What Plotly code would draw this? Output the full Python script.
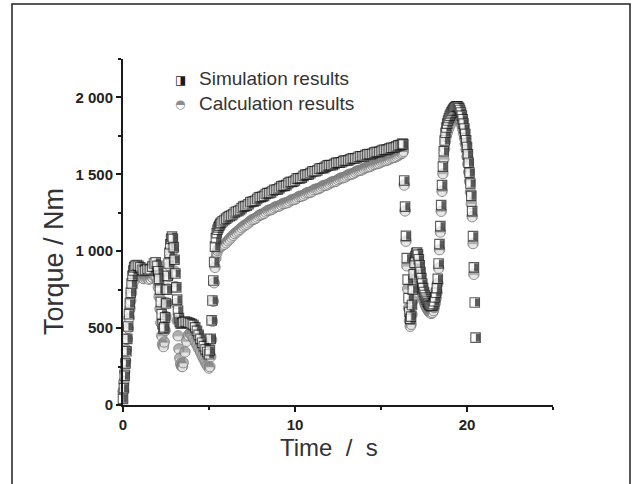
import plotly.graph_objects as go

# ---------------- data ----------------
time_s = [
    0.00, 0.05, 0.10, 0.15, 0.20, 0.25, 0.30, 0.35, 0.40, 0.45, 0.50, 0.55, 0.60, 0.65, 0.70,
    0.80, 0.90, 1.00, 1.10, 1.20, 1.30, 1.40, 1.50, 1.60, 1.70, 1.80, 1.90,
    2.00, 2.05, 2.10, 2.15, 2.20, 2.25, 2.30, 2.35, 2.40, 2.45, 2.50, 2.55, 2.60, 2.65, 2.70,
    2.75, 2.80, 2.85, 2.90, 2.95, 3.00, 3.05, 3.10, 3.15, 3.20, 3.25, 3.30, 3.35, 3.40, 3.45,
    3.50, 3.60, 3.70, 3.80, 3.90, 4.00, 4.10, 4.20, 4.30, 4.40, 4.50, 4.60, 4.70, 4.80, 4.90,
    5.00, 5.05, 5.10, 5.15, 5.20, 5.25, 5.30, 5.35, 5.40, 5.45, 5.50, 5.55, 5.60, 5.65, 5.70,
    5.8, 5.9, 6.0, 6.1, 6.2, 6.3, 6.4, 6.5, 6.6, 6.7,
    6.8, 6.9, 7.0, 7.1, 7.2, 7.3, 7.4, 7.5, 7.6, 7.7,
    7.8, 7.9, 8.0, 8.1, 8.2, 8.3, 8.4, 8.5, 8.6, 8.7,
    8.8, 8.9, 9.0, 9.1, 9.2, 9.3, 9.4, 9.5, 9.6, 9.7,
    9.8, 9.9, 10.0, 10.1, 10.2, 10.3, 10.4, 10.5, 10.6, 10.7,
    10.8, 10.9, 11.0, 11.1, 11.2, 11.3, 11.4, 11.5, 11.6, 11.7,
    11.8, 11.9, 12.0, 12.1, 12.2, 12.3, 12.4, 12.5, 12.6, 12.7,
    12.8, 12.9, 13.0, 13.1, 13.2, 13.3, 13.4, 13.5, 13.6, 13.7,
    13.8, 13.9, 14.0, 14.1, 14.2, 14.3, 14.4, 14.5, 14.6, 14.7,
    14.8, 14.9, 15.0, 15.1, 15.2, 15.3, 15.4, 15.5, 15.6, 15.7,
    15.8, 15.9, 16.0, 16.1, 16.2,
    16.25, 16.30, 16.35, 16.40, 16.45, 16.50, 16.55, 16.60, 16.65, 16.70,
    16.75, 16.80, 16.85, 16.90, 16.95, 17.00, 17.05, 17.10, 17.15, 17.20,
    17.25, 17.30, 17.35, 17.40, 17.45, 17.50, 17.55, 17.60, 17.65, 17.70,
    17.75, 17.80, 17.85, 17.90, 17.95, 18.00, 18.05, 18.10, 18.15, 18.20,
    18.25, 18.30, 18.35, 18.40, 18.45, 18.50, 18.55, 18.60, 18.65, 18.70,
    18.75, 18.80, 18.85, 18.90, 18.95, 19.00, 19.05, 19.10, 19.15, 19.20,
    19.25, 19.30, 19.35, 19.40, 19.45, 19.50, 19.55, 19.60, 19.65, 19.70,
    19.75, 19.80, 19.85, 19.90, 19.95, 20.00, 20.05, 20.10, 20.15, 20.20,
    20.25, 20.30, 20.35, 20.40, 20.45, 20.50,
]

torque_sim = [
    40, 110, 190, 270, 350, 430, 510, 590, 660, 730, 790, 840, 875, 895, 905,
    910, 905, 895, 880, 872, 878, 885, 875, 882, 900, 920, 928,
    905, 870, 820, 750, 670, 590, 525, 495, 505, 570, 660, 750, 840, 920, 990,
    1045, 1080, 1095, 1080, 1025, 945, 855, 765, 685, 615, 565, 540, 530, 530, 535,
    538, 542, 540, 536, 532, 526, 520, 505, 482, 456, 430, 405, 383, 362, 345,
    330, 355, 430, 550, 680, 810, 930, 1030, 1085, 1118, 1140, 1155, 1166, 1176, 1185,
    1195, 1203, 1212, 1222, 1228, 1232, 1240, 1252, 1258, 1262,
    1268, 1280, 1290, 1293, 1296, 1305, 1318, 1322, 1324, 1328,
    1340, 1350, 1352, 1354, 1360, 1372, 1378, 1378, 1382, 1392,
    1400, 1400, 1402, 1410, 1422, 1425, 1425, 1430, 1442, 1450,
    1450, 1452, 1460, 1472, 1475, 1474, 1478, 1490, 1498, 1498,
    1500, 1508, 1518, 1520, 1520, 1525, 1536, 1540, 1540, 1542,
    1550, 1558, 1560, 1559, 1561, 1568, 1575, 1576, 1575, 1579,
    1586, 1590, 1589, 1590, 1597, 1603, 1604, 1603, 1606, 1614,
    1618, 1617, 1618, 1625, 1631, 1632, 1631, 1634, 1641, 1645,
    1645, 1646, 1652, 1658, 1660, 1659, 1662, 1669, 1673, 1673,
    1675, 1682, 1688, 1690, 1692,
    1700, 1695, 1460, 1290, 1100, 955, 815, 695, 605, 560,
    575, 650, 750, 850, 925, 968, 988, 992, 978, 948,
    908, 865, 825, 790, 760, 735, 715, 698, 684, 672,
    662, 654, 648, 644, 643, 646, 656, 675, 700, 730,
    760, 820, 920, 1046, 1163, 1300, 1430, 1550, 1650, 1720,
    1770, 1805, 1830, 1850, 1866, 1880, 1892, 1903, 1913, 1922,
    1930, 1936, 1940, 1942, 1942, 1938, 1930, 1918, 1902, 1882,
    1858, 1830, 1798, 1762, 1722, 1678, 1630, 1575, 1510, 1440,
    1360, 1261, 1098, 895, 667, 438,
]

torque_calc = [
    90, 150, 220, 290, 360, 430, 500, 565, 625, 680, 730, 770, 800, 825, 840,
    848, 845, 838, 828, 822, 825, 828, 818, 822, 832, 842, 835,
    805, 765, 705, 625, 535, 450, 395, 380, 410, 485, 575, 665, 755, 835, 905,
    960, 1000, 1020, 1005, 950, 870, 770, 660, 550, 450, 365, 305, 268, 252, 250,
    275, 345, 415, 455, 465, 455, 435, 412, 390, 368, 345, 320, 298, 276, 258,
    240, 250, 315, 425, 545, 675, 795, 895, 955, 988, 1005, 1015, 1022, 1028, 1034,
    1040, 1046, 1055, 1068, 1080, 1092, 1104, 1115, 1124, 1132,
    1142, 1153, 1163, 1170, 1176, 1185, 1196, 1204, 1208, 1213,
    1222, 1232, 1238, 1241, 1246, 1255, 1264, 1268, 1270, 1275,
    1284, 1290, 1292, 1295, 1302, 1310, 1313, 1314, 1318, 1327,
    1334, 1336, 1338, 1345, 1354, 1358, 1359, 1363, 1372, 1380,
    1382, 1384, 1390, 1399, 1404, 1405, 1408, 1415, 1424, 1428,
    1429, 1433, 1440, 1448, 1452, 1453, 1457, 1465, 1473, 1477,
    1478, 1482, 1490, 1497, 1501, 1502, 1506, 1514, 1521, 1525,
    1526, 1530, 1537, 1544, 1548, 1549, 1553, 1560, 1566, 1569,
    1570, 1574, 1580, 1586, 1589, 1590, 1594, 1600, 1606, 1609,
    1611, 1616, 1623, 1630, 1636,
    1640, 1650, 1430, 1262, 1065, 905, 755, 630, 548, 512,
    525, 590, 680, 770, 840, 882, 902, 900, 882, 853,
    820, 785, 752, 722, 697, 676, 660, 646, 634, 624,
    615, 607, 601, 597, 597, 602, 614, 634, 660, 692,
    730, 790, 890, 1010, 1125, 1260, 1390, 1505, 1600, 1668,
    1715, 1748, 1772, 1790, 1805, 1818, 1830, 1840, 1850, 1858,
    1865, 1870, 1874, 1876, 1876, 1872, 1865, 1855, 1840, 1820,
    1796, 1768, 1736, 1700, 1660, 1616, 1568, 1515, 1455, 1385,
    1310, 1225, 1050, 850,
]

assert len(time_s) == len(torque_sim), (len(time_s), len(torque_sim))
time_c = time_s[:len(torque_calc)]

series_names = ["Simulation results", "Calculation results"]
x_tickvals = [0, 10, 20]
x_ticktext = ["0", "10", "20"]
y_tickvals = [0, 500, 1000, 1500, 2000]
y_ticktext = ["0", "500", "1 000", "1 500", "2 000"]
x_title = "Time\u00a0\u00a0/\u00a0\u00a0s"
y_title = "Torque / Nm"

# ---------------- layout constants ----------------
W, H = 632, 484
ML, MR, MT, MB = 123, 79, 59, 79
X_RANGE = [0, 25]
Y_RANGE = [0, 2250]
PW, PH = W - ML - MR, H - MT - MB

INK = "#1a1a1a"
GREY_FILL = "#8c8c8c"
GREY_LINE = "#777777"
SQ = 9.5     # square marker size (px)
CI = 10.5    # circle marker size (px)

# Each data point is drawn as a small stack of marker layers (same x, y),
# so that later points cover earlier ones exactly like the original plot.
square_layers = [
    dict(symbol="square", size=SQ, color="white", lcolor=INK, lwidth=1.1, angle=0, standoff=0),
    # black right half: a thick short stroke, rotated upright and pushed right
    dict(symbol="line-ew", size=(SQ - 1.6) / 1.4, color=INK, lcolor=INK,
         lwidth=SQ / 2 - 0.5, angle=270, standoff=SQ / 4),
]
circle_layers = [
    dict(symbol="circle", size=CI, color=GREY_FILL, lcolor=GREY_FILL, lwidth=0, angle=0, standoff=0),
    # white lower half: a thick short stroke pushed downwards
    dict(symbol="line-ew", size=(CI - 3.2) / 1.4, color="white", lcolor="white",
         lwidth=CI / 2 - 1.0, angle=0, standoff=CI / 4 + 0.1),
    dict(symbol="circle-open", size=CI, color=GREY_LINE, lcolor=GREY_LINE, lwidth=1, angle=0, standoff=0),
]


def layered_trace(t, v, layers, name):
    xs, ys = [], []
    keys = ["symbol", "size", "color", "lcolor", "lwidth", "angle", "standoff"]
    cols = {k: [] for k in keys}
    for ti, vi in zip(t, v):
        for lay in layers:
            xs.append(ti)
            ys.append(vi)
            for k in keys:
                cols[k].append(lay[k])
    return go.Scatter(
        x=xs, y=ys, mode="markers", name=name, showlegend=False,
        cliponaxis=False, hoverinfo="x+y+name",
        marker=dict(symbol=cols["symbol"], size=cols["size"], color=cols["color"],
                    angle=cols["angle"], standoff=cols["standoff"],
                    line=dict(color=cols["lcolor"], width=cols["lwidth"])),
    )


fig = go.Figure()
fig.add_trace(layered_trace(time_c, torque_calc, circle_layers, series_names[1]))
fig.add_trace(layered_trace(time_s, torque_sim, square_layers, series_names[0]))

FONT = "Liberation Sans, Arial, sans-serif"
tick_font = dict(family=FONT, size=15, color="#222222", weight="bold")

fig.update_layout(
    width=W, height=H,
    margin=dict(l=ML, r=MR, t=MT, b=MB, pad=0),
    paper_bgcolor="white", plot_bgcolor="white",
    showlegend=False,
    xaxis=dict(
        range=X_RANGE, showgrid=False, zeroline=False,
        showline=True, linecolor=INK, linewidth=2,
        ticks="outside", ticklen=5, tickwidth=2, tickcolor=INK,
        tickvals=x_tickvals, ticktext=x_ticktext, tickfont=tick_font,
        minor=dict(dtick=5, tick0=0, ticks="outside", ticklen=3,
                   tickwidth=2, tickcolor=INK, showgrid=False),
    ),
    yaxis=dict(
        range=Y_RANGE, showgrid=False, zeroline=False,
        showline=True, linecolor=INK, linewidth=2,
        ticks="outside", ticklen=5, tickwidth=2, tickcolor=INK,
        tickvals=y_tickvals, ticktext=y_ticktext, tickfont=tick_font,
        minor=dict(dtick=250, tick0=0, ticks="outside", ticklen=3,
                   tickwidth=2, tickcolor=INK, showgrid=False),
    ),
)


def px_x(px):
    return (px - ML) / PW


def px_y(py):
    return (H - MB - py) / PH


# axis titles
fig.add_annotation(xref="paper", yref="paper", x=px_x(329), y=px_y(447),
                   text=x_title, showarrow=False, xanchor="center", yanchor="middle",
                   font=dict(family=FONT, size=24, color="#333333"))
fig.add_annotation(xref="paper", yref="paper", x=px_x(54), y=px_y(262),
                   text=y_title, showarrow=False, textangle=-90,
                   xanchor="center", yanchor="middle",
                   font=dict(family=FONT, size=27, color="#333333"))

# outer frame of the figure
fig.add_shape(type="rect", xref="paper", yref="paper",
              x0=px_x(12), x1=px_x(630), y0=px_y(495), y1=px_y(4),
              line=dict(color="#222222", width=1.5), fillcolor="rgba(0,0,0,0)",
              layer="below")

# legend (Origin-style, inside the plot)
legend_font = dict(family=FONT, size=19, color="#333333")
glyphs = ["\u25E8", "\u25D3"]
glyph_colors = [INK, GREY_FILL]
rows_py = [79, 103]
for name, g, gc, py in zip(series_names, glyphs, glyph_colors, rows_py):
    fig.add_annotation(xref="paper", yref="paper", x=px_x(180), y=px_y(py + 1),
                       text=g, showarrow=False, xanchor="center", yanchor="middle",
                       font=dict(family="DejaVu Sans", size=12, color=gc))
    fig.add_annotation(xref="paper", yref="paper", x=px_x(197), y=px_y(py),
                       text=name, showarrow=False, xanchor="left", yanchor="middle",
                       font=legend_font)

fig.write_html("out.html")
